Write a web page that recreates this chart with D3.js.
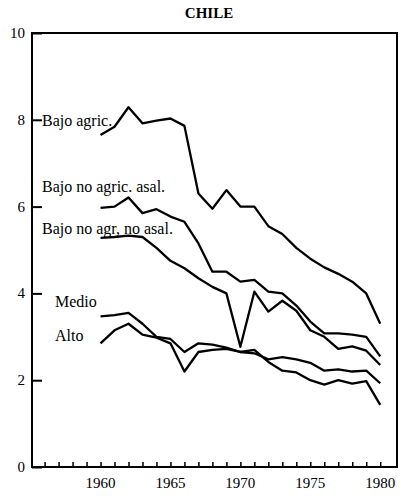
<!DOCTYPE html>
<html>
<head>
<meta charset="utf-8">
<script src="https://cdn.jsdelivr.net/npm/d3@7"></script>
<style>
  html, body { margin: 0; padding: 0; background: #fff; }
</style>
</head>
<body>
<div class="chart"></div>
<script>
const title = "CHILE";

const years = [1960, 1961, 1962, 1963, 1964, 1965, 1966, 1967, 1968, 1969, 1970,
               1971, 1972, 1973, 1974, 1975, 1976, 1977, 1978, 1979, 1980];

const bajoAgric =       [7.65, 7.84, 8.29, 7.92, 7.98, 8.03, 7.86, 6.30, 5.95, 6.38, 6.00,
                         6.00, 5.55, 5.37, 5.05, 4.80, 4.60, 4.45, 4.27, 4.00, 3.30];
const bajoNoAgricAsal = [5.97, 6.00, 6.21, 5.85, 5.94, 5.77, 5.65, 5.15, 4.50, 4.50, 4.27,
                         4.31, 4.04, 4.00, 3.72, 3.35, 3.08, 3.08, 3.05, 3.00, 2.55];
const bajoNoAgrNoAsal = [5.28, 5.30, 5.33, 5.30, 5.05, 4.75, 4.58, 4.35, 4.15, 4.00, 2.77,
                         4.04, 3.58, 3.83, 3.60, 3.15, 3.00, 2.72, 2.78, 2.68, 2.35];
const medio =           [3.47, 3.50, 3.55, 3.30, 3.00, 2.95, 2.65, 2.85, 2.82, 2.75, 2.65,
                         2.62, 2.48, 2.53, 2.48, 2.40, 2.22, 2.25, 2.20, 2.22, 1.93];
const alto =            [2.85, 3.15, 3.30, 3.05, 2.98, 2.85, 2.20, 2.65, 2.70, 2.72, 2.65,
                         2.70, 2.42, 2.22, 2.18, 2.00, 1.90, 2.00, 1.92, 1.98, 1.43];

const seriesNames = ["Bajo agric.", "Bajo no agric. asal.", "Bajo no agr, no asal.", "Medio", "Alto"];
const seriesValues = [bajoAgric, bajoNoAgricAsal, bajoNoAgrNoAsal, medio, alto];
// where each name is written, in data units (baseline)
const labelValues = [7.86, 6.34, 5.37, 3.69, 2.90];

const yTicks = [0, 2, 4, 6, 8, 10];
const yearTicks = [1956, 1957, 1958, 1959, 1960, 1961, 1962, 1963, 1964, 1965, 1966, 1967, 1968,
                   1969, 1970, 1971, 1972, 1973, 1974, 1975, 1976, 1977, 1978, 1979, 1980];
const yearLabels = [1960, 1965, 1970, 1975, 1980];

const width = 403;
const height = 496;
const margin = {top: 33, right: 6, bottom: 29, left: 32};
const serif = "'Liberation Serif', 'DejaVu Serif', serif";

const svg = d3.select(".chart")
    .append("svg")
    .attr("width", width)
    .attr("height", height)
    .attr("font-family", serif);

const x = d3.scaleLinear()
    .domain([1955.1, 1981.2])
    .range([margin.left, width - margin.right]);

const y = d3.scaleLinear()
    .domain([0, 10])
    .range([height - margin.bottom, margin.top]);

// title
svg.append("text")
    .attr("x", 209)
    .attr("y", 18)
    .attr("text-anchor", "middle")
    .attr("font-family", serif)
    .style("font-size", "15px")
    .style("font-weight", "bold")
    .text(title);

// frame
svg.append("rect")
    .attr("x", margin.left)
    .attr("y", margin.top)
    .attr("width", width - margin.right - margin.left)
    .attr("height", height - margin.bottom - margin.top)
    .attr("fill", "none")
    .attr("stroke", "black")
    .attr("stroke-width", 2);

// y axis, ticks point inward
const yAxis = svg.append("g")
    .attr("transform", `translate(${margin.left}, 0)`)
    .call(d3.axisRight(y).tickValues(yTicks).tickSize(10).tickFormat(""));
yAxis.select(".domain").remove();
yAxis.selectAll("line").attr("stroke-width", 2);

svg.append("g")
    .selectAll("text")
    .data(yTicks)
    .enter()
    .append("text")
    .attr("x", margin.left - 7)
    .attr("y", d => y(d) + 5)
    .attr("text-anchor", "end")
    .attr("font-family", serif)
    .style("font-size", "15px")
    .text(d => d);

// x axis, small inward ticks each year
const xAxis = svg.append("g")
    .attr("transform", `translate(0, ${height - margin.bottom})`)
    .call(d3.axisTop(x).tickValues(yearTicks).tickSize(5).tickFormat(""));
xAxis.select(".domain").remove();
xAxis.selectAll("line").attr("stroke-width", 1.5);

svg.append("g")
    .selectAll("text")
    .data(yearLabels)
    .enter()
    .append("text")
    .attr("x", d => x(d))
    .attr("y", height - margin.bottom + 21)
    .attr("text-anchor", "middle")
    .attr("font-family", serif)
    .style("font-size", "15px")
    .text(d => d);

// lines
const line = d3.line()
    .x((d, i) => x(years[i]))
    .y(d => y(d));

svg.append("g")
    .selectAll("path")
    .data(seriesValues)
    .enter()
    .append("path")
    .attr("d", d => line(d))
    .attr("fill", "none")
    .attr("stroke", "black")
    .attr("stroke-width", 2.3)
    .attr("stroke-linejoin", "round");

// series names
svg.append("g")
    .selectAll("text")
    .data(seriesNames)
    .enter()
    .append("text")
    .attr("x", (d, i) => i < 3 ? margin.left + 10 : margin.left + 23)
    .attr("y", (d, i) => y(labelValues[i]))
    .attr("font-family", serif)
    .style("font-size", "16px")
    .text(d => d);
</script>
</body>
</html>
